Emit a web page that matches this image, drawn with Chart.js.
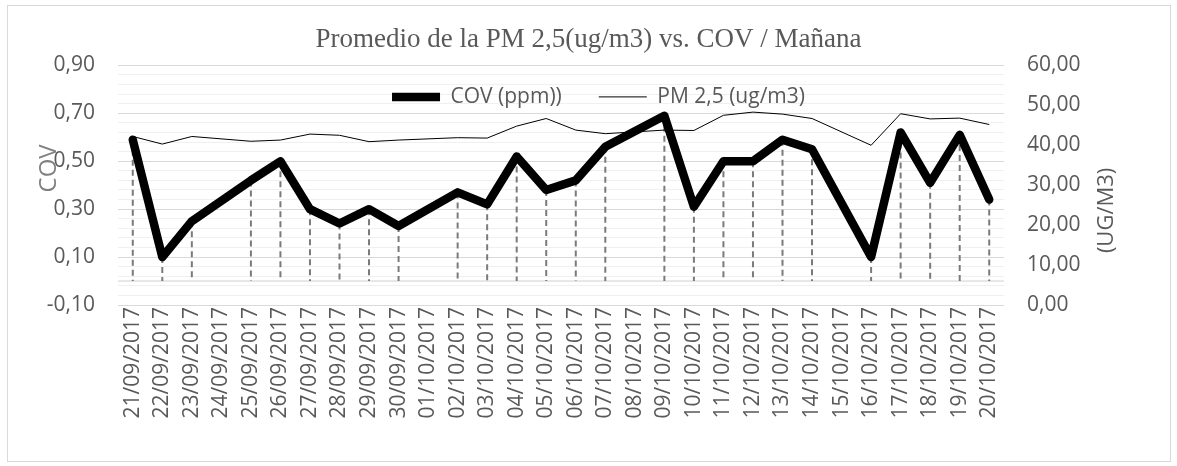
<!DOCTYPE html>
<html lang="es">
<head>
<meta charset="UTF-8">
<title>Promedio de la PM 2,5 vs. COV / Mañana</title>
<script src="https://cdn.jsdelivr.net/npm/chart.js"></script>
<style>
  body { margin: 0; background: #fff; }
  #wrap { position: relative; width: 1177px; height: 466px; }
  #frame { position: absolute; left: 7px; top: 5px; width: 1162px; height: 455px; border: 1px solid #d9d9d9; pointer-events: none; }
</style>
</head>
<body>
<div id="wrap">
  <canvas id="chart" width="1177" height="466"></canvas>
  <div id="frame"></div>
</div>
<script>
// datos (domingos sin medición)
const fechas = ['21/09/2017', '22/09/2017', '23/09/2017', '24/09/2017', '25/09/2017', '26/09/2017',
  '27/09/2017', '28/09/2017', '29/09/2017', '30/09/2017', '01/10/2017', '02/10/2017', '03/10/2017',
  '04/10/2017', '05/10/2017', '06/10/2017', '07/10/2017', '08/10/2017', '09/10/2017', '10/10/2017',
  '11/10/2017', '12/10/2017', '13/10/2017', '14/10/2017', '15/10/2017', '16/10/2017', '17/10/2017',
  '18/10/2017', '19/10/2017', '20/10/2017'];
const cov = [0.59, 0.10, 0.25, null, 0.42, 0.50, 0.30, 0.24, 0.30, 0.23, null, 0.37, 0.32, 0.52, 0.38,
  0.42, 0.56, null, 0.69, 0.31, 0.50, 0.50, 0.59, 0.55, null, 0.10, 0.62, 0.41, 0.61, 0.34];
const pm25 = [42.2, 40.3, 42.2, null, 41.0, 41.3, 42.8, 42.5, 40.9, 41.3, null, 41.9, 41.8, 44.8, 46.7,
  43.8, 42.9, null, 43.8, 43.7, 47.5, 48.3, 47.8, 46.7, null, 40.0, 47.9, 46.6, 46.8, 45.2];

const covMin = -0.1, covMax = 0.9, covMajor = 0.2, covMinor = 0.04;
const pmMin = 0, pmMax = 60, pmStep = 10;

const coma = (v) => v.toFixed(2).replace('.', ',');
const esMayor = (v) => {
  const k = (v - covMin) / covMajor;
  return Math.abs(k - Math.round(k)) < 1e-6;
};

Chart.defaults.font.family = "'Open Sans', sans-serif";
Chart.defaults.color = '#595959';

// lineas de proyeccion y eje en 0
const proyeccion = {
  id: 'proyeccion',
  beforeDatasetsDraw(chart) {
    const { ctx, chartArea, scales } = chart;
    const y0 = scales.y.getPixelForValue(0);
    ctx.save();
    ctx.strokeStyle = '#d0d0d0';
    ctx.lineWidth = 1;
    ctx.beginPath();
    ctx.moveTo(chartArea.left, y0);
    ctx.lineTo(chartArea.right, y0);
    ctx.stroke();

    const meta = chart.getDatasetMeta(0);
    ctx.strokeStyle = '#7a7a7a';
    ctx.lineWidth = 2;
    ctx.setLineDash([6, 4]);
    ctx.beginPath();
    meta.data.forEach((pt, i) => {
      if (cov[i] == null) return;
      ctx.moveTo(pt.x, pt.y);
      ctx.lineTo(pt.x, y0);
    });
    ctx.stroke();
    ctx.restore();
  }
};

// leyenda dentro del area y titulos de ejes
const extras = {
  id: 'extras',
  afterLayout(chart) {
    const lg = chart.legend;
    lg.top = chart.chartArea.top + 32 - 37 - 11;
    lg.bottom = lg.top + 120;
    lg.height = 120;
    lg.left = 10;
    lg.right = chart.width + 10;
  },
  afterDraw(chart) {
    const { ctx, chartArea } = chart;
    ctx.save();
    ctx.textAlign = 'center';
    ctx.textBaseline = 'middle';
    ctx.fillStyle = '#808080';
    ctx.font = "24px 'Open Sans'";
    ctx.translate(chartArea.left - 69, chartArea.top + 103);
    ctx.rotate(-Math.PI / 2);
    ctx.fillText('COV', 0, 0);
    ctx.restore();

    ctx.save();
    ctx.textAlign = 'center';
    ctx.textBaseline = 'middle';
    ctx.fillStyle = '#595959';
    ctx.font = "22px 'Open Sans'";
    ctx.translate(chartArea.right + 103, chartArea.top + 145);
    ctx.rotate(-Math.PI / 2);
    ctx.fillText('(UG/M3)', 0, 0);
    ctx.restore();
  }
};

new Chart(document.getElementById('chart'), {
  type: 'line',
  data: {
    labels: fechas,
    datasets: [
      {
        label: 'COV (ppm))',
        data: cov,
        yAxisID: 'y',
        borderColor: '#000',
        backgroundColor: '#000',
        borderWidth: 8.5,
        borderJoinStyle: 'round',
        borderCapStyle: 'round',
        pointRadius: 0,
        spanGaps: true,
        tension: 0
      },
      {
        label: 'PM 2,5 (ug/m3)',
        data: pm25,
        yAxisID: 'y1',
        borderColor: '#000',
        backgroundColor: '#000',
        borderWidth: 1,
        pointRadius: 0,
        spanGaps: true,
        tension: 0
      }
    ]
  },
  options: {
    responsive: false,
    animation: false,
    devicePixelRatio: 1,
    layout: { padding: 0 },
    plugins: {
      title: {
        display: true,
        text: 'Promedio de la PM 2,5(ug/m3) vs. COV / Mañana',
        color: '#595959',
        font: { family: "'Liberation Serif', serif", size: 27, weight: 'normal', lineHeight: 1.2 },
        padding: { top: 24, bottom: 8 }
      },
      legend: {
        position: 'top',
        maxHeight: 1,
        labels: {
          usePointStyle: true,
          pointStyle: 'line',
          pointStyleWidth: 48,
          padding: 37,
          color: '#595959',
          font: { size: 21 }
        }
      },
      tooltip: { enabled: false }
    },
    scales: {
      x: {
        offset: true,
        grid: { display: false },
        border: { display: false },
        ticks: { autoSkip: false, minRotation: 90, maxRotation: 90, padding: -6, font: { size: 21 }, color: '#595959' },
        afterFit: (s) => { s.height = 161; }
      },
      y: {
        position: 'left',
        min: covMin,
        max: covMax,
        border: { display: false },
        grid: {
          drawTicks: false,
          color: (c) => (c.tick && esMayor(c.tick.value)) ? '#d9d9d9' : '#f0f0f0',
          lineWidth: 1
        },
        ticks: {
          stepSize: covMinor,
          autoSkip: false,
          padding: 23,
          font: { size: 21 },
          color: '#595959',
          callback: (v) => esMayor(v) ? coma(v) : ''
        },
        afterFit: (s) => { s.width = 118; }
      },
      y1: {
        position: 'right',
        min: pmMin,
        max: pmMax,
        border: { display: false },
        grid: { display: false, drawTicks: false },
        ticks: {
          stepSize: pmStep,
          padding: 23,
          font: { size: 21 },
          color: '#595959',
          callback: (v) => coma(v)
        },
        afterFit: (s) => { s.width = 173; }
      }
    }
  },
  plugins: [proyeccion, extras]
});
</script>
</body>
</html>
